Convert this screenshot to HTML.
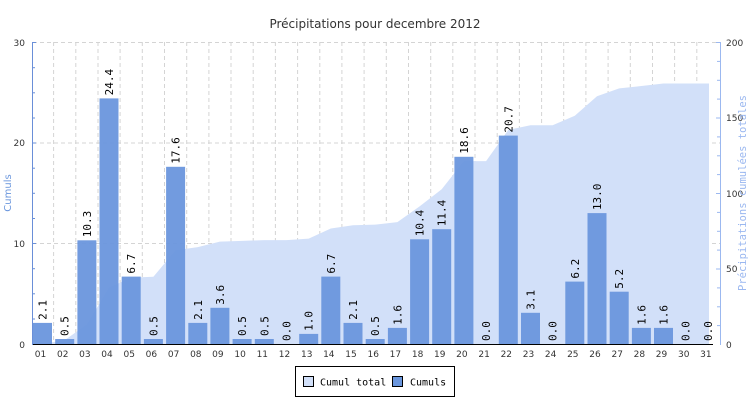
<!DOCTYPE html>
<html><head><meta charset="utf-8"><style>
body{margin:0;background:#fff}
svg{display:block}
text{font-family:"DejaVu Sans","Liberation Sans",sans-serif}
.v text{font-family:"DejaVu Sans Mono","Liberation Mono",monospace;font-size:11px;fill:#000}
.xl text{font-size:9px;fill:#333;text-anchor:middle}
.yl text{font-size:9px;fill:#333}
text.mono{font-family:"DejaVu Sans Mono","Liberation Mono",monospace}
</style></head><body>
<svg width="750" height="400" viewBox="0 0 750 400">
<rect width="750" height="400" fill="#fff"/>
<text x="375" y="28" text-anchor="middle" font-size="12" fill="#333">Précipitations pour decembre 2012</text>
<g stroke="#d4d4d4" stroke-dasharray="4,3" stroke-width="1">
<line x1="33" y1="42.5" x2="720" y2="42.5"/><line x1="33" y1="143" x2="720" y2="143"/><line x1="33" y1="243.5" x2="720" y2="243.5"/>
<line x1="53.6" y1="42" x2="53.6" y2="344"/><line x1="75.8" y1="42" x2="75.8" y2="344"/><line x1="98" y1="42" x2="98" y2="344"/><line x1="120.1" y1="42" x2="120.1" y2="344"/><line x1="142.3" y1="42" x2="142.3" y2="344"/><line x1="164.5" y1="42" x2="164.5" y2="344"/><line x1="186.7" y1="42" x2="186.7" y2="344"/><line x1="208.9" y1="42" x2="208.9" y2="344"/><line x1="231" y1="42" x2="231" y2="344"/><line x1="253.2" y1="42" x2="253.2" y2="344"/><line x1="275.4" y1="42" x2="275.4" y2="344"/><line x1="297.6" y1="42" x2="297.6" y2="344"/><line x1="319.8" y1="42" x2="319.8" y2="344"/><line x1="341.9" y1="42" x2="341.9" y2="344"/><line x1="364.1" y1="42" x2="364.1" y2="344"/><line x1="386.3" y1="42" x2="386.3" y2="344"/><line x1="408.5" y1="42" x2="408.5" y2="344"/><line x1="430.7" y1="42" x2="430.7" y2="344"/><line x1="452.8" y1="42" x2="452.8" y2="344"/><line x1="475" y1="42" x2="475" y2="344"/><line x1="497.2" y1="42" x2="497.2" y2="344"/><line x1="519.4" y1="42" x2="519.4" y2="344"/><line x1="541.6" y1="42" x2="541.6" y2="344"/><line x1="563.7" y1="42" x2="563.7" y2="344"/><line x1="585.9" y1="42" x2="585.9" y2="344"/><line x1="608.1" y1="42" x2="608.1" y2="344"/><line x1="630.3" y1="42" x2="630.3" y2="344"/><line x1="652.5" y1="42" x2="652.5" y2="344"/><line x1="674.6" y1="42" x2="674.6" y2="344"/><line x1="696.8" y1="42" x2="696.8" y2="344"/>
</g>
<polygon fill="#d2e0f9" points="33,344 42.5,344 64.7,340.1 86.9,324.5 109,287.7 131.2,277.6 153.4,276.8 175.6,250.2 197.8,247.1 219.9,241.6 242.1,240.9 264.3,240.1 286.5,240.1 308.7,238.6 330.8,228.5 353,225.3 375.2,224.6 397.4,222.1 419.6,206.4 441.7,189.2 463.9,161.1 486.1,161.1 508.3,129.9 530.5,125.2 552.6,125.2 574.8,115.8 597,96.2 619.2,88.4 641.4,86 663.5,83.5 685.7,83.5 709,83.5 709,344"/>
<g fill="#6a96dd" fill-opacity="0.95">
<rect x="33" y="322.9" width="19" height="21.1"/><rect x="55.2" y="339" width="19" height="5"/><rect x="77.4" y="240.3" width="19" height="103.7"/><rect x="99.5" y="98.4" width="19" height="245.6"/><rect x="121.7" y="276.6" width="19" height="67.4"/><rect x="143.9" y="339" width="19" height="5"/><rect x="166.1" y="166.8" width="19" height="177.2"/><rect x="188.3" y="322.9" width="19" height="21.1"/><rect x="210.4" y="307.8" width="19" height="36.2"/><rect x="232.6" y="339" width="19" height="5"/><rect x="254.8" y="339" width="19" height="5"/><rect x="299.2" y="333.9" width="19" height="10.1"/><rect x="321.3" y="276.6" width="19" height="67.4"/><rect x="343.5" y="322.9" width="19" height="21.1"/><rect x="365.7" y="339" width="19" height="5"/><rect x="387.9" y="327.9" width="19" height="16.1"/><rect x="410.1" y="239.3" width="19" height="104.7"/><rect x="432.2" y="229.2" width="19" height="114.8"/><rect x="454.4" y="156.8" width="19" height="187.2"/><rect x="498.8" y="135.6" width="19" height="208.4"/><rect x="521" y="312.8" width="19" height="31.2"/><rect x="565.3" y="281.6" width="19" height="62.4"/><rect x="587.5" y="213.1" width="19" height="130.9"/><rect x="609.7" y="291.7" width="19" height="52.3"/><rect x="631.9" y="327.9" width="19" height="16.1"/><rect x="654" y="327.9" width="19" height="16.1"/>
</g>
<g class="v">
<text transform="translate(46.5,319.9) rotate(-90)">2.1</text>
<text transform="translate(68.7,336) rotate(-90)">0.5</text>
<text transform="translate(90.9,237.3) rotate(-90)">10.3</text>
<text transform="translate(113,95.4) rotate(-90)">24.4</text>
<text transform="translate(135.2,273.6) rotate(-90)">6.7</text>
<text transform="translate(157.4,336) rotate(-90)">0.5</text>
<text transform="translate(179.6,163.8) rotate(-90)">17.6</text>
<text transform="translate(201.8,319.9) rotate(-90)">2.1</text>
<text transform="translate(223.9,304.8) rotate(-90)">3.6</text>
<text transform="translate(246.1,336) rotate(-90)">0.5</text>
<text transform="translate(268.3,336) rotate(-90)">0.5</text>
<text transform="translate(290.5,341) rotate(-90)">0.0</text>
<text transform="translate(312.7,330.9) rotate(-90)">1.0</text>
<text transform="translate(334.8,273.6) rotate(-90)">6.7</text>
<text transform="translate(357,319.9) rotate(-90)">2.1</text>
<text transform="translate(379.2,336) rotate(-90)">0.5</text>
<text transform="translate(401.4,324.9) rotate(-90)">1.6</text>
<text transform="translate(423.6,236.3) rotate(-90)">10.4</text>
<text transform="translate(445.7,226.2) rotate(-90)">11.4</text>
<text transform="translate(467.9,153.8) rotate(-90)">18.6</text>
<text transform="translate(490.1,341) rotate(-90)">0.0</text>
<text transform="translate(512.3,132.6) rotate(-90)">20.7</text>
<text transform="translate(534.5,309.8) rotate(-90)">3.1</text>
<text transform="translate(556.6,341) rotate(-90)">0.0</text>
<text transform="translate(578.8,278.6) rotate(-90)">6.2</text>
<text transform="translate(601,210.1) rotate(-90)">13.0</text>
<text transform="translate(623.2,288.7) rotate(-90)">5.2</text>
<text transform="translate(645.4,324.9) rotate(-90)">1.6</text>
<text transform="translate(667.5,324.9) rotate(-90)">1.6</text>
<text transform="translate(689.7,341) rotate(-90)">0.0</text>
<text transform="translate(711.9,341) rotate(-90)">0.0</text>
</g>
<line x1="32" y1="344.5" x2="713" y2="344.5" stroke="#000" stroke-width="1"/>
<line x1="32.5" y1="42" x2="32.5" y2="345" stroke="#6a8fd8"/>
<g stroke="#6a8fd8"><line x1="32" y1="42.5" x2="36" y2="42.5"/><line x1="32" y1="67.7" x2="35" y2="67.7"/><line x1="32" y1="92.8" x2="35" y2="92.8"/><line x1="32" y1="118" x2="35" y2="118"/><line x1="32" y1="143" x2="36" y2="143"/><line x1="32" y1="168.2" x2="35" y2="168.2"/><line x1="32" y1="193.3" x2="35" y2="193.3"/><line x1="32" y1="218.5" x2="35" y2="218.5"/><line x1="32" y1="243.5" x2="36" y2="243.5"/><line x1="32" y1="268.7" x2="35" y2="268.7"/><line x1="32" y1="293.8" x2="35" y2="293.8"/><line x1="32" y1="319" x2="35" y2="319"/></g>
<line x1="720.5" y1="42" x2="720.5" y2="345" stroke="#9bb8f0"/>
<g stroke="#9bb8f0"><line x1="716" y1="42.5" x2="720" y2="42.5"/><line x1="717" y1="61.4" x2="720" y2="61.4"/><line x1="717" y1="80.3" x2="720" y2="80.3"/><line x1="717" y1="99.1" x2="720" y2="99.1"/><line x1="716" y1="118" x2="720" y2="118"/><line x1="717" y1="136.9" x2="720" y2="136.9"/><line x1="717" y1="155.8" x2="720" y2="155.8"/><line x1="717" y1="174.6" x2="720" y2="174.6"/><line x1="716" y1="193.5" x2="720" y2="193.5"/><line x1="717" y1="212.4" x2="720" y2="212.4"/><line x1="717" y1="231.3" x2="720" y2="231.3"/><line x1="717" y1="250.1" x2="720" y2="250.1"/><line x1="716" y1="269" x2="720" y2="269"/><line x1="717" y1="287.9" x2="720" y2="287.9"/><line x1="717" y1="306.8" x2="720" y2="306.8"/><line x1="717" y1="325.6" x2="720" y2="325.6"/></g>
<g class="yl" text-anchor="end"><text x="25" y="46">30</text><text x="25" y="146">20</text><text x="25" y="247">10</text><text x="25" y="348">0</text></g>
<g class="yl"><text x="726" y="46">200</text><text x="726" y="121">150</text><text x="726" y="197">100</text><text x="726" y="272">50</text><text x="726" y="348">0</text></g>
<text transform="translate(11,193) rotate(-90)" text-anchor="middle" font-size="10" fill="#6a96dd">Cumuls</text>
<text class="mono" transform="translate(746,193) rotate(-90)" text-anchor="middle" font-size="10.5" fill="#9bb8f0">Précipitations cumulées totales</text>
<g class="xl">
<text x="40.5" y="357">01</text><text x="62.7" y="357">02</text><text x="84.9" y="357">03</text><text x="107" y="357">04</text><text x="129.2" y="357">05</text><text x="151.4" y="357">06</text><text x="173.6" y="357">07</text><text x="195.8" y="357">08</text><text x="217.9" y="357">09</text><text x="240.1" y="357">10</text><text x="262.3" y="357">11</text><text x="284.5" y="357">12</text><text x="306.7" y="357">13</text><text x="328.8" y="357">14</text><text x="351" y="357">15</text><text x="373.2" y="357">16</text><text x="395.4" y="357">17</text><text x="417.6" y="357">18</text><text x="439.7" y="357">19</text><text x="461.9" y="357">20</text><text x="484.1" y="357">21</text><text x="506.3" y="357">22</text><text x="528.5" y="357">23</text><text x="550.6" y="357">24</text><text x="572.8" y="357">25</text><text x="595" y="357">26</text><text x="617.2" y="357">27</text><text x="639.4" y="357">28</text><text x="661.5" y="357">29</text><text x="683.7" y="357">30</text><text x="705.9" y="357">31</text>
</g>
<rect x="295.5" y="366.5" width="159" height="30" fill="#fff" stroke="#000"/>
<rect x="303.5" y="376.5" width="10" height="10" fill="#d2e0f9" stroke="#000"/>
<text class="mono" x="320" y="385.5" font-size="10">Cumul total</text>
<rect x="392.5" y="376.5" width="10" height="10" fill="#6a96dd" stroke="#000"/>
<text class="mono" x="410" y="385.5" font-size="10">Cumuls</text>
</svg>
</body></html>
